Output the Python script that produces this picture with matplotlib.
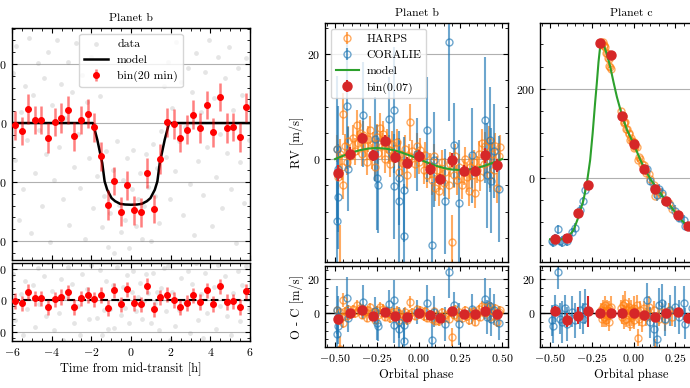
import matplotlib
matplotlib.use("Agg")
import matplotlib.pyplot as plt
from matplotlib.ticker import MultipleLocator, AutoMinorLocator
import numpy as np

plt.rcParams['font.family'] = 'serif'
plt.rcParams['font.serif'] = ['cmr10']
plt.rcParams['mathtext.fontset'] = 'cm'
plt.rcParams['axes.formatter.use_mathtext'] = True
plt.rcParams['font.size'] = 8.5
plt.rcParams['axes.unicode_minus'] = True

# ---------------- transit (planet b) ----------------
# raw photometry [ppm] and its residuals
dot_t = [-5.95, -5.85, -5.78, -5.66, -5.55, -5.47, -5.36, -5.22, -5.13, -5.05,
         -4.94, -4.83, -4.71, -4.62, -4.5, -4.41, -4.28, -4.19, -4.07, -3.96,
         -3.88, -3.75, -3.64, -3.52, -3.43, -3.31, -3.2, -3.12, -2.99, -2.87,
         -2.78, -2.66, -2.55, -2.46, -2.33, -2.24, -2.11, -2.02, -1.9, -1.8,
         -1.69, -1.58, -1.47, -1.36, -1.27, -1.15, -1.04, -0.93, -0.85, -0.72,
         -0.61, -0.52, -0.4, -0.31, -0.18, -0.09, 0.03, 0.12, 0.24, 0.35,
         0.44, 0.57, 0.66, 0.78, 0.87, 0.99, 1.1, 1.19, 1.31, 1.42,
         1.53, 1.64, 1.75, 1.86, 1.97, 2.08, 2.2, 2.29, 2.41, 2.52,
         2.63, 2.74, 2.86, 2.95, 3.07, 3.18, 3.29, 3.4, 3.51, 3.63,
         3.72, 3.85, 3.94, 4.06, 4.17, 4.28, 4.39, 4.51, 4.6, 4.72,
         4.83, 4.95, 5.04, 5.16, 5.27, 5.38, 5.49, 5.61, 5.7, 5.82, 5.93]
dot_flux = [420, -310, 650, -820, 90, -560, 310, -140, 720, -930,
            240, -420, 510, -60, -700, 380, -260, 600, -1010, 150,
            -480, 700, -200, 330, -640, 40, 520, -860, 260, -370,
            680, -90, -550, 410, -980, 180, -300, 560, -720, -30,
            -450, 230, -880, -620, -240, -1050, -760, -400, -1100, -150,
            -690, -920, -480, -820, -300, -1060, -560, -230, -870, -640,
            -420, -980, -700, -260, -540, -1000, -180, -620, -380, -850,
            -70, 310, -290, 520, -640, 130, -410, 690, -150, 350,
            -780, -30, 470, -520, 260, -950, 590, -320, 90, -610,
            430, -200, 700, -870, 210, -460, 560, -90, -720, 380,
            -250, 640, -560, 110, -1020, 470, -330, 240, -680, 550, -140]
dot_resid = [420, -310, 650, -820, 90, -560, 310, -140, 720, -930,
             240, -420, 510, -60, -700, 380, -260, 600, -1010, 150,
             -480, 700, -200, 330, -640, 40, 520, -860, 260, -370,
             680, -90, -550, 410, -980, 180, -300, 560, -715, 30,
             -290, 480, -560, -150, 305, -460, -135, 245, -440, 522,
             -8, -234, 208, -130, 392, -368, 132, 462, -179, 49,
             268, -296, -20, 410, 115, -364, 430, -40, 130, -470,
             200, 510, -180, 550, -640, 130, -410, 690, -150, 350,
             -780, -30, 470, -520, 260, -950, 590, -320, 90, -610,
             430, -200, 700, -870, 210, -460, 560, -90, -720, 380,
             -250, 640, -560, 110, -1020, 470, -330, 240, -680, 550, -140]

# 20-min bins
bin_t = [-5.85, -5.52, -5.18, -4.85, -4.52, -4.18, -3.85, -3.52, -3.18, -2.85,
         -2.52, -2.18, -1.85, -1.52, -1.18, -0.85, -0.52, -0.18, 0.15, 0.48,
         0.82, 1.15, 1.48, 1.82, 2.15, 2.48, 2.82, 3.15, 3.48, 3.82,
         4.15, 4.48, 4.82, 5.15, 5.48, 5.82]
bin_flux = [-20, -65, 120, 23, 23, -127, 11, 42, 113, -113,
            23, 79, -37, -283, -695, -489, -751, -528, -740, -757,
            -424, -726, -305, 6, -6, -127, -56, 71, -42, 155,
            -79, 220, -42, -34, -121, 133]
bin_resid = [-11, -53, 127, 32, 26, -116, 11, 48, 122, -106,
             26, 85, 16, 79, -122, 159, -69, 169, -42, -69,
             222, -148, 42, 85, 0, -116, -42, 79, -26, 159,
             -63, 222, -26, -16, -106, 138]
bin_err = [125, 120, 125, 120, 120, 125, 120, 125, 120, 125,
           120, 125, 120, 125, 125, 120, 125, 120, 125, 120,
           125, 120, 125, 120, 125, 120, 125, 120, 125, 120,
           125, 120, 125, 120, 125, 120]

model_t = [-6, -1.92, -1.70, -1.45, -1.33, -1.20, -0.98, -0.80, -0.55, -0.30, 0,
           0.30, 0.55, 0.80, 0.98, 1.20, 1.33, 1.45, 1.70, 1.92, 6]
model_flux = [0, 0, -141, -339, -494, -565, -636, -662, -684, -690, -692,
              -690, -684, -662, -636, -565, -494, -339, -141, 0, 0]

# ---------------- RV planet b ----------------
harps_b_phase = [-0.49, -0.48, -0.47, -0.47, -0.46, -0.455, -0.45, -0.44, -0.43, -0.42,
                 -0.41, -0.39, -0.38, -0.37, -0.36, -0.35, -0.34, -0.33, -0.32, -0.31,
                 -0.30, -0.29, -0.28, -0.27, -0.26, -0.25, -0.24, -0.23, -0.22, -0.21,
                 -0.20, -0.19, -0.18, -0.17, -0.16, -0.15, -0.13, -0.12, -0.11, -0.10,
                 -0.08, -0.07, -0.06, -0.05, -0.04, -0.02, -0.01, 0.00, 0.01, 0.03,
                 0.04, 0.05, 0.07, 0.08, 0.09, 0.10, 0.11, 0.12, 0.13, 0.14,
                 0.15, 0.16, 0.18, 0.19, 0.20, 0.21, 0.22, 0.23, 0.24, 0.26,
                 0.27, 0.28, 0.29, 0.30, 0.31, 0.32, 0.33, 0.34, 0.35, 0.36,
                 0.37, 0.38, 0.39, 0.40, 0.41, 0.42, 0.43, 0.44, 0.45, 0.46,
                 0.47, 0.48, 0.49]
harps_b_rv = [2.0, -3.5, 1.0, -20.5, -1.5, 8.5, -5.0, 2.5, -0.5, 3.5,
              0.5, 4.0, 1.5, 6.5, 3.0, 5.0, 1.0, 4.5, 2.5, -0.5,
              3.8, 5.5, 0.5, 2.8, -1.5, 4.2, 1.2, 6.0, 2.5, 4.8,
              0.0, 3.5, 1.8, -1.0, 2.8, 0.5, 3.2, -2.5, 1.0, -0.8,
              2.0, -3.0, 0.5, 7.0, 1.5, -1.0, 2.5, -0.5, 1.8, -2.0,
              0.8, -3.0, -1.2, -4.0, 0.5, -5.5, -2.0, -6.0, -3.5, -0.5,
              -4.5, -2.5, -5.0, -1.0, -15.7, -3.0, 0.5, -4.0, -1.5, -5.0,
              -2.5, 0.0, -3.5, -6.0, -1.5, -3.0, -0.5, -6.5, -2.0, 1.0,
              -3.5, 3.0, -1.0, 2.5, -0.5, 3.5, -3.0, 1.0, -2.0, 2.5,
              -5.5, 0.5, 2.2]
harps_b_resid = [1.9, -3.8, 0.6, -20.9, -2.0, 7.9, -5.6, 1.7, -1.4, 2.5,
                 -0.6, 2.7, 0.1, 5.0, 1.4, 3.3, -0.8, 2.7, 0.6, -2.5,
                 1.8, 3.5, -1.6, 0.7, -3.6, 2.1, -0.9, 3.9, 0.4, 2.8,
                 -2.0, 1.5, -0.1, -2.9, 1.0, -1.2, 1.7, -3.9, -0.3, -2.0,
                 1.0, -3.9, -0.3, 6.4, 1.0, -1.3, 2.4, -0.5, 1.9, -1.6,
                 1.3, -2.4, -0.3, -3.0, 1.6, -4.3, -0.7, -4.6, -2.0, 1.1,
                 -2.8, -0.7, -3.1, 1.0, -13.7, -1.0, 2.6, -1.9, 0.6, -2.9,
                 -0.4, 2.1, -1.5, -4.0, 0.5, -1.1, 1.4, -4.7, -0.3, 2.6,
                 -2.0, 4.4, 0.3, 3.7, 0.6, 4.5, -2.1, 1.8, -1.4, 3.0,
                 -5.1, 0.8, 2.3]
harps_b_err = [2.5, 2.2, 2.8, 8.0, 2.4, 4.0, 2.6, 2.3, 2.5, 2.7,
               2.2, 2.4, 2.6, 2.9, 2.3, 2.5, 2.4, 2.8, 2.2, 2.6,
               2.5, 2.7, 2.3, 2.4, 2.6, 2.5, 2.2, 2.8, 2.4, 2.5,
               2.6, 2.3, 2.7, 2.4, 2.5, 2.2, 2.6, 2.8, 2.4, 2.3,
               2.5, 2.7, 2.4, 3.5, 2.2, 2.6, 2.5, 2.4, 2.3, 2.7,
               2.5, 2.6, 2.4, 2.8, 2.3, 2.5, 2.6, 2.9, 2.4, 2.2,
               2.5, 2.7, 2.6, 2.4, 5.0, 2.5, 2.3, 2.8, 2.4, 2.6,
               2.5, 2.2, 2.7, 2.9, 2.4, 2.5, 2.3, 2.8, 2.6, 2.4,
               2.5, 2.7, 2.3, 2.6, 2.4, 2.8, 2.5, 2.2, 2.6, 2.4,
               2.9, 2.5, 2.3]

coralie_b_phase = [-0.49, -0.49, -0.48, -0.485, -0.43, -0.425, -0.33, -0.26, -0.25, -0.24,
                   -0.18, -0.15, -0.145, -0.12, -0.115, -0.09, -0.085, -0.01, 0.05, 0.08,
                   0.09, 0.16, 0.18, 0.21, 0.24, 0.32, 0.40, 0.41, 0.43, 0.435,
                   0.45, 0.48]
coralie_b_rv = [1.9, -11.8, -7.2, -1.9, 10.1, -1.9, 8.4, 3.8, -3.6, -5.0,
                7.6, 9.3, -5.2, -3.6, -7.9, -5.8, -14.7, 0.9, 5.6, -16.3,
                -0.1, -8.0, 22.2, 2.7, -8.3, 0.7, 7.4, -3.1, 3.7, -4.1,
                1.5, -5.7]
coralie_b_resid = [1.8, -11.9, -7.5, -2.0, 9.2, -2.8, 6.6, 1.7, -5.7, -7.1,
                   5.7, 7.6, -6.9, -5.0, -9.3, -6.9, -15.8, 0.8, 6.3, -15.3,
                   1.0, -6.2, 24.1, 4.7, -6.2, 2.6, 8.6, -2.0, 4.6, -3.3,
                   2.2, -5.4]
coralie_b_err = [14, 9, 10, 12, 12, 8, 10, 8, 10, 9,
                 8, 12, 10, 9, 12, 10, 10, 7, 10, 12,
                 9, 10, 15, 8, 12, 9, 12, 10, 10, 10,
                 9, 10]

binb_phase = [-0.48, -0.41, -0.34, -0.27, -0.20, -0.14, -0.07, 0.0, 0.07, 0.13,
              0.20, 0.27, 0.34, 0.40, 0.47]
binb_rv = [-2.6, 1.0, 4.0, 0.7, 3.5, 0.4, -0.7, 0.6, -1.9, -3.8,
           -0.2, -2.2, -2.3, 0.7, -1.2]
binb_resid = [-3.0, 0.0, 2.0, -1.4, 1.0, -1.4, -2.0, 0.4, -0.8, -2.4,
              1.6, -0.4, -0.4, 1.4, -0.4]
binb_err = [1.5, 1.2, 1.0, 1.1, 1.0, 1.2, 1.0, 1.1, 1.2, 1.0,
            1.3, 1.1, 1.0, 1.4, 1.3]

modelb_phase = [-0.50, -0.45, -0.40, -0.35, -0.30, -0.25, -0.20, -0.15, -0.10, -0.05, 0.0,
                0.05, 0.10, 0.15, 0.20, 0.25, 0.30, 0.35, 0.40, 0.45, 0.50]
modelb_rv = [0, 0.65, 1.23, 1.70, 2.0, 2.1, 2.0, 1.70, 1.23, 0.65, 0,
             -0.65, -1.23, -1.70, -2.0, -2.1, -2.0, -1.70, -1.23, -0.65, 0]

# ---------------- RV planet c ----------------
harps_c_phase = [-0.195, -0.19, -0.185, -0.18, -0.175, -0.17, -0.165, -0.16, -0.155, -0.15,
                 -0.145, -0.14, -0.135, -0.075, -0.07, -0.065, -0.06, -0.055, -0.05, -0.045,
                 -0.04, -0.03, -0.025, -0.02, -0.015, -0.01, -0.005, 0.0, 0.005, 0.01,
                 0.02, 0.025, 0.03, 0.04, 0.05, 0.06, 0.075, 0.09, 0.10, 0.13,
                 0.125, 0.15, 0.17, 0.19, 0.21, 0.23]
harps_c_rv = [305, 301, 306, 298, 297, 294, 280, 280, 270, 267,
              252, 250, 245, 151, 139, 140, 126, 124, 125, 110,
              110, 99, 100, 86, 89, 83, 81, 80, 68, 69,
              69, 40, 47, 43, 32, 28, 12, 8, -3, -40,
              -17, -32, -38, -53, -56, -70]
harps_c_resid = [2, -3, 4, -2, 1, 5, -4, 2, -1, 3,
                 -5, 0, 4, 3, -2, 5, -4, 1, 6, -3,
                 2, -1, 4, -6, 2, -2, 0, 3, -4, 1,
                 5, -14, -3, 2, -5, 3, -2, 4, -1, -21,
                 2, -3, 1, -4, 2, -2]
harps_c_err = [4, 5, 4, 6, 4, 5, 4, 6, 5, 4,
               5, 4, 6, 5, 4, 6, 5, 4, 7, 5,
               4, 6, 5, 4, 6, 5, 4, 7, 5, 4,
               6, 5, 4, 5, 6, 4, 5, 6, 4, 6,
               5, 4, 5, 6, 4, 5]

coralie_c_phase = [-0.49, -0.48, -0.47, -0.45, -0.44, -0.43, -0.41, -0.40, -0.37, -0.35,
                   -0.32, -0.30, -0.29, 0.08, 0.10, 0.12, 0.14, 0.15, 0.17, 0.19,
                   0.22, 0.25, 0.27, 0.30, 0.31, 0.35, 0.40, 0.43, 0.47]
coralie_c_rv = [-142, -145, -135, -115, -142, -143, -134, -142, -122, -112,
                -73, -53, -27, 19, -7, -22, -39, -24, -33, -52,
                -61, -74, -90, -94, -109, -112, -130, -126, -139]
coralie_c_resid = [-4, -7, 3, 24, -3, -5, 3, -6, 1, -4,
                   2, -3, 4, 8, -5, -9, -15, 5, 6, -3,
                   2, 4, -2, 6, -6, 3, -4, 5, -3]
coralie_c_err = [9, 10, 8, 10, 9, 12, 8, 10, 9, 10,
                 11, 9, 10, 10, 9, 10, 12, 10, 11, 10,
                 9, 12, 10, 10, 9, 10, 11, 10, 9]

binc_phase = [-0.47, -0.40, -0.33, -0.27, -0.20, -0.133, -0.067, 0.0, 0.065, 0.13,
              0.196, 0.265, 0.327, 0.40, 0.47]
binc_rv = [-138, -135, -80, -17, 302, 277, 138, 76, 21, -24,
           -53, -84, -107, -126, -136]
binc_resid = [1.6, -3.8, -1.4, 1.2, 0.0, 0.0, 0.0, 0.0, -1.0, -1.8,
              0.0, 0.6, -2.4, 1.0, -1.0]
binc_err = [3, 4, 5, 9, 1, 1, 1, 1, 1.5, 1.5, 2, 2, 2.5, 3, 3]

modelc_phase = [-0.50, -0.45, -0.40, -0.36, -0.33, -0.30, -0.28, -0.26, -0.245, -0.23,
                -0.22, -0.21, -0.20, -0.19, -0.18, -0.16, -0.14, -0.12, -0.10, -0.07,
                -0.04, 0.0, 0.035, 0.07, 0.105, 0.14, 0.175, 0.21, 0.24, 0.27,
                0.30, 0.33, 0.37, 0.41, 0.45, 0.50]
modelc_rv = [-138, -139, -136, -118, -88, -50, -13, 40, 100, 170,
             213, 260, 295, 304, 300, 278, 250, 215, 182, 141,
             108, 77, 45, 17, -5, -24, -42, -58, -73, -88,
             -100, -110, -120, -128, -134, -138]

C_HARPS = '#ff7f0e'
C_CORALIE = '#1f77b4'
C_MODEL = '#2ca02c'
C_BIN = '#d62728'

W, H = 690, 388
fig = plt.figure(figsize=(W / 100, H / 100), dpi=100)


def box(x0, top, x1, bottom):
    return [x0 / W, 1 - bottom / H, (x1 - x0) / W, (bottom - top) / H]


def style(ax):
    ax.tick_params(which='both', direction='in', top=True, right=True, labelsize=8.5)
    ax.tick_params(which='major', length=3.5, width=0.8)
    ax.tick_params(which='minor', length=2, width=0.6)
    for s in ax.spines.values():
        s.set_linewidth(1.0)
    ax.grid(axis='y', color='#b0b0b0', lw=0.8)
    ax.set_axisbelow(True)


# transit panels
ax1 = fig.add_axes(box(12, 28, 250, 260))
ax2 = fig.add_axes(box(12, 263, 250, 341), sharex=ax1)
for ax in (ax1, ax2):
    style(ax)
    ax.xaxis.set_major_locator(MultipleLocator(2))
    ax.xaxis.set_minor_locator(AutoMinorLocator(4))
    ax.yaxis.set_major_locator(MultipleLocator(500))
    ax.yaxis.set_minor_locator(AutoMinorLocator(5))

ax1.scatter(dot_t, dot_flux, s=12, color='gray', alpha=0.2, lw=0, label='data')
ax1.plot(model_t, model_flux, color='k', lw=1.8, label='model', zorder=4)
ax1.errorbar(bin_t, bin_flux, yerr=bin_err, fmt='o', ms=4, color='red',
             ecolor=(1, 0, 0, 0.5), elinewidth=1.8, label='bin(20 min)', zorder=5)
ax1.set_xlim(-6, 6)
ax1.set_ylim(-1160, 805)
ax1.set_title('Planet b', fontsize=8.5, pad=5)
ax1.legend(loc='upper center', fontsize=8.5)
plt.setp(ax1.get_xticklabels(), visible=False)

ax2.scatter(dot_t, dot_resid, s=12, color='gray', alpha=0.2, lw=0)
ax2.axhline(0, color='k', ls='--', lw=1.5, zorder=3)
ax2.errorbar(bin_t, bin_resid, yerr=bin_err, fmt='o', ms=4, color='red',
             ecolor=(1, 0, 0, 0.5), elinewidth=1.8, zorder=5)
ax2.set_ylim(-650, 590)
ax2.set_xlabel('Time from mid-transit [h]', fontsize=9, labelpad=3)


def rv_panels(x0, x1, title):
    top = fig.add_axes(box(x0, 23, x1, 262))
    bot = fig.add_axes(box(x0, 266, x1, 347), sharex=top)
    for ax in (top, bot):
        style(ax)
        ax.xaxis.set_major_locator(MultipleLocator(0.25))
        ax.xaxis.set_minor_locator(AutoMinorLocator(5))
        ax.yaxis.set_minor_locator(AutoMinorLocator(4))
    top.set_xlim(-0.56, 0.535)
    top.set_title(title, fontsize=8.5, pad=5)
    plt.setp(top.get_xticklabels(), visible=False)
    bot.yaxis.set_major_locator(MultipleLocator(20))
    bot.set_ylim(-19.5, 27.6)
    bot.axhline(0, color='k', lw=1.0, zorder=1)
    bot.set_xlabel('Orbital phase', fontsize=9, labelpad=3)
    return top, bot


def draw_inst(ax, x, y, e, c, label=None):
    ax.errorbar(x, y, yerr=e, fmt='o', ms=5, mfc='none', mec=c, mew=1.0,
                ecolor=c, elinewidth=1.5, alpha=0.65, label=label, zorder=2)


axb, axbr = rv_panels(325, 508, 'Planet b')
axb.yaxis.set_major_locator(MultipleLocator(20))
axb.set_ylim(-19.6, 25.9)
draw_inst(axb, harps_b_phase, harps_b_rv, harps_b_err, C_HARPS, 'HARPS')
draw_inst(axb, coralie_b_phase, coralie_b_rv, coralie_b_err, C_CORALIE, 'CORALIE')
axb.plot(modelb_phase, modelb_rv, color=C_MODEL, lw=1.5, label='model', zorder=4)
axb.errorbar(binb_phase, binb_rv, yerr=binb_err, fmt='o', ms=6.5, color=C_BIN,
             elinewidth=1.5, label='bin(0.07)', zorder=5)
axb.set_ylabel('RV [m/s]', fontsize=9, labelpad=2)
handles, labels = axb.get_legend_handles_labels()
order = [labels.index(k) for k in ['HARPS', 'CORALIE', 'model', 'bin(0.07)']]
axb.legend([handles[i] for i in order], [labels[i] for i in order],
           loc='upper left', fontsize=8.5, handletextpad=0.6)

draw_inst(axbr, harps_b_phase, harps_b_resid, harps_b_err, C_HARPS)
draw_inst(axbr, coralie_b_phase, coralie_b_resid, coralie_b_err, C_CORALIE)
axbr.errorbar(binb_phase, binb_resid, yerr=binb_err, fmt='o', ms=6.5, color=C_BIN,
              elinewidth=1.5, zorder=5)
axbr.set_ylabel('O - C [m/s]', fontsize=9, labelpad=2)

axc, axcr = rv_panels(540, 723, 'Planet c')
axc.yaxis.set_major_locator(MultipleLocator(200))
axc.set_ylim(-189, 348)
draw_inst(axc, harps_c_phase, harps_c_rv, harps_c_err, C_HARPS)
draw_inst(axc, coralie_c_phase, coralie_c_rv, coralie_c_err, C_CORALIE)
axc.plot(modelc_phase, modelc_rv, color=C_MODEL, lw=1.5, zorder=4)
axc.errorbar(binc_phase, binc_rv, yerr=binc_err, fmt='o', ms=6.5, color=C_BIN,
             elinewidth=1.5, zorder=5)

draw_inst(axcr, harps_c_phase, harps_c_resid, harps_c_err, C_HARPS)
draw_inst(axcr, coralie_c_phase, coralie_c_resid, coralie_c_err, C_CORALIE)
axcr.errorbar(binc_phase, binc_resid, yerr=binc_err, fmt='o', ms=6.5, color=C_BIN,
              elinewidth=1.5, zorder=5)

fig.savefig('out.png', dpi=100)
